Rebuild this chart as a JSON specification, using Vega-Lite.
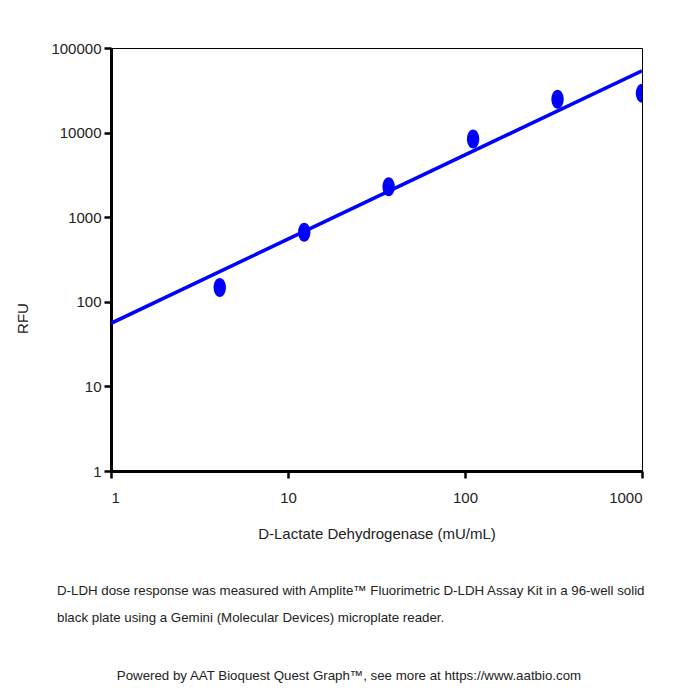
{
  "$schema": "https://vega.github.io/schema/vega-lite/v6.json",
  "autosize": {"type": "pad"},
  "padding": {"left": 15, "top": 40, "right": 10, "bottom": 10},
  "background": "white",
  "datasets": {
    "points": [
      {"conc": 4.115, "rfu": 148},
      {"conc": 12.35, "rfu": 663},
      {"conc": 37.04, "rfu": 2290},
      {"conc": 111.1, "rfu": 8400},
      {"conc": 333.3, "rfu": 24800},
      {"conc": 1000, "rfu": 29200}
    ],
    "fit": [
      {"conc": 1, "rfu": 55.7},
      {"conc": 1000, "rfu": 53900}
    ]
  },
  "title": {
    "text": "Powered by AAT Bioquest Quest Graph™, see more at https://www.aatbio.com",
    "orient": "bottom",
    "anchor": "middle",
    "font": "Liberation Sans",
    "fontSize": 13.3,
    "fontWeight": "normal",
    "color": "#222222",
    "offset": 44,
    "dx": 18
  },
  "vconcat": [
    {
      "width": 531,
      "height": 423,
      "title": {
        "text": [
          "D-LDH dose response was measured with Amplite™ Fluorimetric D-LDH Assay Kit in a 96-well solid",
          "black plate using a Gemini (Molecular Devices) microplate reader."
        ],
        "orient": "bottom",
        "anchor": "start",
        "frame": "group",
        "dx": -54,
        "offset": 43,
        "lineHeight": 27,
        "font": "Liberation Sans",
        "fontSize": 13.3,
        "fontWeight": "normal",
        "color": "#222222"
      },
      "layer": [
        {
          "data": {"name": "fit"},
          "mark": {"type": "line", "color": "#0000FF", "strokeWidth": 3.5, "clip": true},
          "encoding": {
            "x": {
              "field": "conc", "type": "quantitative",
              "scale": {"type": "log", "domain": [1, 1000]},
              "axis": {
                "title": "D-Lactate Dehydrogenase (mU/mL)",
                "values": [1, 10, 100, 1000],
                "format": "d"
              }
            },
            "y": {
              "field": "rfu", "type": "quantitative",
              "scale": {"type": "log", "domain": [1, 100000]},
              "axis": {
                "title": "RFU",
                "values": [1, 10, 100, 1000, 10000, 100000],
                "format": "d"
              }
            }
          }
        },
        {
          "data": {"name": "points"},
          "mark": {
            "type": "point",
            "filled": true,
            "opacity": 1,
            "color": "#0000FF",
            "shape": "M-0.65,0A0.65,1 0 1,1 0.65,0A0.65,1 0 1,1 -0.65,0Z",
            "size": 361,
            "clip": true
          },
          "encoding": {
            "x": {"field": "conc", "type": "quantitative"},
            "y": {"field": "rfu", "type": "quantitative"}
          }
        }
      ]
    }
  ],
  "config": {
    "view": {"stroke": "black", "strokeWidth": 1},
    "concat": {"spacing": 0},
    "axis": {
      "grid": false,
      "domainColor": "black",
      "domainWidth": 3,
      "tickColor": "black",
      "tickWidth": 2.5,
      "tickSize": 7,
      "labelFont": "Liberation Sans",
      "labelFontSize": 15,
      "labelColor": "#222222",
      "titleFont": "Liberation Sans",
      "titleFontSize": 15,
      "titleFontWeight": "normal",
      "titleColor": "#222222"
    },
    "axisX": {"labelPadding": 12, "titlePadding": 21},
    "axisY": {"labelPadding": 3, "titlePadding": 20, "titleY": 270}
  }
}
